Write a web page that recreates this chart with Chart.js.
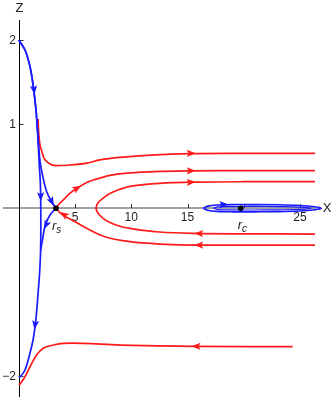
<!DOCTYPE html>
<html><head><meta charset="utf-8">
<script src="https://cdn.jsdelivr.net/npm/chart.js@4"></script>
<style>html,body{margin:0;padding:0;background:#fff}canvas{display:block}</style>
</head><body>
<canvas id="c" width="332" height="397"></canvas>
<script>
// ---- data (in plot coordinates X, Z) ----
const xTicks = [5, 10, 15, 20, 25];
const xTickLabels = ['5', '10', '15', '', '25'];
const zTicks = [2, 1, -2];
const zTickLabels = ['2', '1', '\u22122'];

const saddle = [[3.31, 0]];       // r_s
const center = [[19.73, 0]];      // r_c

const blueA = [[0,2],[0.556,1.881],[1.0,1.683],[1.293,1.445],[1.533,1.168],[1.67,0.93],[1.78,0.72],[1.9,0.55],[2.11,0.395],[2.484,0.196],[2.929,0.077],[3.31,0]];
const blueB = [[0,2],[0.556,1.881],[1.0,1.683],[1.293,1.445],[1.533,1.168],[1.66,0.93],[1.75,0.72],[1.83,0.5],[1.92,0.3],[1.95,0.1],[1.96,-0.1],[1.96,-0.3],[1.93,-0.556],[1.84,-0.794],[1.74,-0.973],[1.6,-1.21],[1.47,-1.388],[1.27,-1.567],[1.0,-1.722],[0.556,-1.924],[0.17,-2.0],[0,-2.005]];
const blueC = [[3.31,0],[2.78,-0.081],[2.36,-0.2],[2.13,-0.358],[1.95,-0.5]];
const blueOrbitOuter = [[16.4,0],[16.8,0.025],[17.6,0.038],[19,0.043],[21,0.043],[23,0.041],[25,0.033],[26.3,0.018],[26.9,0],[26.3,-0.018],[25,-0.033],[23,-0.041],[21,-0.043],[19,-0.043],[17.6,-0.038],[16.8,-0.025],[16.4,0]];
const blueOrbitInner = [[17.3,0],[17.7,0.016],[19,0.02],[21,0.021],[23,0.019],[25,0.014],[26.0,0],[25,-0.014],[23,-0.019],[21,-0.021],[19,-0.02],[17.7,-0.016],[17.3,0]];

const red1 = [[1.72,1.06],[1.76,0.92],[1.89,0.75],[2.04,0.68],[2.33,0.575],[2.93,0.515],[3.67,0.508],[4.56,0.514],[6.07,0.537],[7.22,0.575],[9.0,0.605],[11.67,0.632],[15.2,0.65],[20.5,0.653],[26.33,0.653]];
const red2 = [[3.31,0],[3.67,0.062],[4.11,0.117],[4.56,0.18],[5.15,0.235],[6.04,0.305],[6.63,0.335],[8.11,0.39],[9.89,0.42],[12.56,0.437],[15.22,0.445],[20.56,0.446],[26.33,0.446]];
const red3 = [[26.33,-0.307],[20,-0.305],[15.8,-0.3],[12.5,-0.283],[9.9,-0.24],[9.0,-0.215],[8.1,-0.17],[7.5,-0.12],[7.05,-0.06],[6.87,0],[7.05,0.065],[7.5,0.12],[8.1,0.175],[9.0,0.225],[9.9,0.26],[12.5,0.295],[15.8,0.31],[20,0.315],[26.33,0.315]];
const red4 = [[26.33,-0.438],[16.0,-0.438],[12.56,-0.426],[9.89,-0.398],[7.67,-0.339],[6.04,-0.239],[5.0,-0.16],[4.11,-0.095],[3.67,-0.055],[3.31,0]];
const red5 = [[24.35,-1.645],[15.76,-1.643],[9.0,-1.627],[5.74,-1.607],[3.96,-1.607],[3.07,-1.627],[2.18,-1.665],[1.59,-1.745],[1.0,-1.885],[0.556,-2.004],[0.111,-2.09],[0,-2.1]];

// arrowheads: which curve, and where on it (plot coordinates)
const arrowMarks = [
  {curve: blueB, at: [1.356, 1.405]},
  {curve: blueB, at: [1.951, 0.137]},
  {curve: blueA, at: [2.929, 0.077]},
  {curve: blueC, at: [2.42, -0.2]},
  {curve: blueB, at: [1.45, -1.389]},
  {curve: blueOrbitOuter, at: [18.24, 0.043]},
  {curve: red1, at: [15.33, 0.652]},
  {curve: red2, at: [5.2, 0.24]},
  {curve: red2, at: [15.33, 0.445]},
  {curve: red3, at: [15.33, 0.31]},
  {curve: red3, at: [16.0, -0.3]},
  {curve: red4, at: [16.0, -0.438]},
  {curve: red4, at: [4.0, -0.075]},
  {curve: red5, at: [15.76, -1.643]}
];

const xRange = [-1.667, 27.844];
const zRange = [-2.245, 2.476];
const xAxisSpan = [-1.4, 26.42];
const zAxisTop = 2.238;

const BLUE = '#1a1aff', RED = '#ff1a1a';
const pts = a => a.map(([x, y]) => ({x, y}));
const line = (d, color, w) => ({data: pts(d), showLine: true, borderColor: color, backgroundColor: color, borderWidth: w || 1.7, pointRadius: 0, tension: 0.35, fill: false});

const curveColor = new Map([[blueA,BLUE],[blueB,BLUE],[blueC,BLUE],[blueOrbitOuter,BLUE],[blueOrbitInner,BLUE],[red1,RED],[red2,RED],[red3,RED],[red4,RED],[red5,RED]]);

const axesPlugin = {
  id: 'axes',
  beforeDatasetsDraw(chart) {
    const {ctx, scales: {x, y}} = chart;
    const y0 = Math.round(y.getPixelForValue(0)) + 0.0;
    const x0 = Math.round(x.getPixelForValue(0)) + 0.5;
    ctx.save();
    // X axis
    ctx.strokeStyle = '#808080'; ctx.lineWidth = 1.6;
    ctx.beginPath(); ctx.moveTo(x.getPixelForValue(xAxisSpan[0]), y0); ctx.lineTo(x.getPixelForValue(xAxisSpan[1]), y0); ctx.stroke();
    // Z axis
    ctx.strokeStyle = '#000'; ctx.lineWidth = 1;
    ctx.beginPath(); ctx.moveTo(x0, y.getPixelForValue(zAxisTop)); ctx.lineTo(x0, chart.height); ctx.stroke();
    // ticks
    ctx.strokeStyle = '#333'; ctx.lineWidth = 1;
    xTicks.forEach(t => { const px = Math.round(x.getPixelForValue(t)) + 0.5; ctx.beginPath(); ctx.moveTo(px, y0); ctx.lineTo(px, y0 - 4); ctx.stroke(); });
    zTicks.forEach(t => { const py = Math.round(y.getPixelForValue(t)) + 0.5; ctx.beginPath(); ctx.moveTo(x0, py); ctx.lineTo(x0 + 4, py); ctx.stroke(); });
    // tick labels
    ctx.fillStyle = '#222';
    ctx.font = '12px "Liberation Sans", Arial, sans-serif';
    ctx.textAlign = 'center'; ctx.textBaseline = 'top';
    xTicks.forEach((t, i) => ctx.fillText(xTickLabels[i], x.getPixelForValue(t), y0 + 4));
    ctx.textAlign = 'right'; ctx.textBaseline = 'middle';
    zTicks.forEach((t, i) => ctx.fillText(zTickLabels[i], x0 - 3.5, y.getPixelForValue(t) + 0.5));
    // axis titles
    ctx.font = '13px "Liberation Sans", Arial, sans-serif';
    ctx.textAlign = 'center'; ctx.textBaseline = 'middle';
    ctx.fillText('Z', x0, 8);
    ctx.fillText('X', x.getPixelForValue(xAxisSpan[1]) + 11, y0);
    ctx.restore();
  },
  afterDatasetsDraw(chart) {
    const {ctx, scales: {x, y}} = chart;
    ctx.save();
    arrowMarks.forEach(a => {
      const p = a.curve.map(([u, v]) => [x.getPixelForValue(u), y.getPixelForValue(v)]);
      const q = [x.getPixelForValue(a.at[0]), y.getPixelForValue(a.at[1])];
      let best = 1e9, dir = [1, 0];
      for (let i = 0; i < p.length - 1; i++) {
        const [ax, ay] = p[i], [bx, by] = p[i + 1];
        const dx = bx - ax, dy = by - ay, L2 = dx * dx + dy * dy || 1;
        let t = ((q[0] - ax) * dx + (q[1] - ay) * dy) / L2; t = Math.max(0, Math.min(1, t));
        const cx = ax + t * dx - q[0], cy = ay + t * dy - q[1], d = cx * cx + cy * cy;
        if (d < best) { best = d; const L = Math.sqrt(L2); dir = [dx / L, dy / L]; }
      }
      const len = 9, hw = 3.6;
      const tip = [q[0] + dir[0] * len / 2, q[1] + dir[1] * len / 2];
      const base = [q[0] - dir[0] * len / 2, q[1] - dir[1] * len / 2];
      const n = [-dir[1], dir[0]];
      ctx.fillStyle = curveColor.get(a.curve);
      ctx.beginPath();
      ctx.moveTo(tip[0], tip[1]);
      ctx.lineTo(base[0] + n[0] * hw, base[1] + n[1] * hw);
      ctx.lineTo(base[0] + dir[0] * 2, base[1] + dir[1] * 2);
      ctx.lineTo(base[0] - n[0] * hw, base[1] - n[1] * hw);
      ctx.closePath(); ctx.fill();
    });
    // point labels r_s, r_c
    ctx.fillStyle = '#222';
    ctx.textAlign = 'left'; ctx.textBaseline = 'alphabetic';
    const lab = (pt, dx, dy, sub) => {
      const px = x.getPixelForValue(pt[0]) + dx, py = y.getPixelForValue(pt[1]) + dy;
      ctx.font = 'italic 13px "Liberation Sans", Arial, sans-serif';
      ctx.fillText('r', px, py);
      const w = ctx.measureText('r').width;
      ctx.font = 'italic 10px "Liberation Sans", Arial, sans-serif';
      ctx.fillText(sub, px + w, py + 2.5);
    };
    lab(saddle[0], -4, 22, 's');
    lab(center[0], -3, 21, 'c');
    ctx.restore();
  }
};

new Chart(document.getElementById('c'), {
  type: 'scatter',
  data: {
    datasets: [
      {data: pts(saddle), pointRadius: 2.8, pointBackgroundColor: '#000', pointBorderWidth: 0, showLine: false},
      {data: pts(center), pointRadius: 2.8, pointBackgroundColor: '#000', pointBorderWidth: 0, showLine: false},
      line(blueA, BLUE), line(blueB, BLUE), line(blueC, BLUE),
      line(blueOrbitOuter, BLUE, 1.6), line(blueOrbitInner, BLUE, 1.2),
      line(red1, RED), line(red2, RED), line(red3, RED), line(red4, RED), line(red5, RED)
    ]
  },
  options: {
    responsive: false, animation: false,
    layout: {padding: 0, autoPadding: false},
    plugins: {legend: {display: false}, tooltip: {enabled: false}},
    events: [],
    scales: {
      x: {type: 'linear', display: false, min: xRange[0], max: xRange[1]},
      y: {type: 'linear', display: false, min: zRange[0], max: zRange[1]}
    }
  },
  plugins: [axesPlugin]
});
</script>
</body></html>
